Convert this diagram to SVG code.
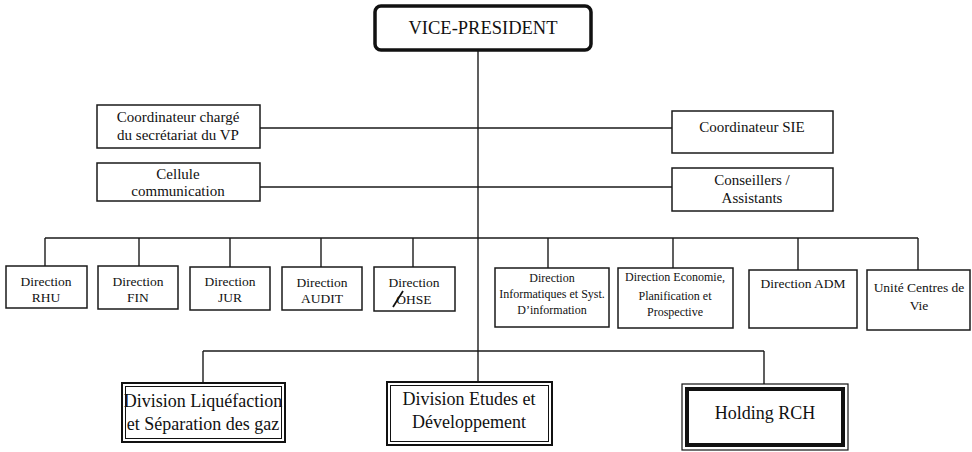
<svg xmlns="http://www.w3.org/2000/svg" width="972" height="452" viewBox="0 0 972 452">
  <style>
    text { font-family: "Liberation Serif", "Times New Roman", serif; fill: #111; text-anchor: middle; }
    .box { fill: #fff; stroke: #1a1a1a; stroke-width: 1.5; }
    .line { fill: none; stroke: #1a1a1a; stroke-width: 1.4; }
    .t15 { font-size: 15px; }
    .t13 { font-size: 13.5px; }
    .t12 { font-size: 12px; }
    .t18 { font-size: 18px; }
  </style>

  <rect width="972" height="452" fill="#fff"/>

  <!-- connectors -->
  <g id="connectors" class="line">
    <!-- main trunk -->
    <line x1="478" y1="50" x2="478" y2="382"/>
    <!-- staff links -->
    <line x1="260" y1="128" x2="672" y2="128"/>
    <line x1="260" y1="187" x2="672" y2="187"/>
    <!-- directions bus -->
    <line x1="45" y1="238" x2="918" y2="238"/>
    <line x1="45" y1="238" x2="45" y2="266"/>
    <line x1="139" y1="238" x2="139" y2="266"/>
    <line x1="230" y1="238" x2="230" y2="267"/>
    <line x1="321" y1="238" x2="321" y2="267"/>
    <line x1="413" y1="238" x2="413" y2="267"/>
    <line x1="548" y1="238" x2="548" y2="268"/>
    <line x1="673" y1="238" x2="673" y2="268"/>
    <line x1="798" y1="238" x2="798" y2="270"/>
    <line x1="918" y1="238" x2="918" y2="270"/>
    <!-- divisions bus -->
    <line x1="203" y1="351" x2="764" y2="351"/>
    <line x1="203" y1="351" x2="203" y2="383"/>
    <line x1="764" y1="351" x2="764" y2="384"/>
  </g>

  <!-- top node -->
  <g id="vice-president">
    <rect x="375" y="6" width="216" height="44" rx="6" fill="#fff" stroke="#111" stroke-width="3.5"/>
    <text x="483" y="34" style="font-size:18.5px">VICE-PRESIDENT</text>
  </g>

  <!-- staff -->
  <g id="coord-secretariat">
    <rect class="box" x="97" y="105" width="163" height="43"/>
    <text class="t15" x="178" y="122">Coordinateur chargé</text>
    <text class="t15" x="178" y="140">du secrétariat du VP</text>
  </g>
  <g id="cellule-communication">
    <rect class="box" x="97" y="163" width="163" height="38"/>
    <text class="t15" x="178" y="179">Cellule</text>
    <text class="t15" x="178" y="196">communication</text>
  </g>
  <g id="coord-sie">
    <rect class="box" x="672" y="111" width="161" height="42"/>
    <text class="t15" x="752" y="132">Coordinateur SIE</text>
  </g>
  <g id="conseillers">
    <rect class="box" x="672" y="168" width="161" height="43"/>
    <text class="t15" x="752" y="185">Conseillers /</text>
    <text class="t15" x="752" y="203">Assistants</text>
  </g>

  <!-- directions -->
  <g id="dir-rhu">
    <rect class="box" x="6" y="266" width="81" height="42"/>
    <text class="t13" x="46" y="286">Direction</text>
    <text class="t13" x="46" y="302">RHU</text>
  </g>
  <g id="dir-fin">
    <rect class="box" x="98" y="266" width="80" height="43"/>
    <text class="t13" x="138" y="286">Direction</text>
    <text class="t13" x="138" y="302">FIN</text>
  </g>
  <g id="dir-jur">
    <rect class="box" x="190" y="267" width="80" height="43"/>
    <text class="t13" x="230" y="286">Direction</text>
    <text class="t13" x="230" y="302">JUR</text>
  </g>
  <g id="dir-audit">
    <rect class="box" x="282" y="267" width="80" height="43"/>
    <text class="t13" x="322" y="287">Direction</text>
    <text class="t13" x="322" y="303">AUDIT</text>
  </g>
  <g id="dir-ohse">
    <rect class="box" x="374" y="267" width="81" height="44"/>
    <text class="t13" x="414" y="287">Direction</text>
    <text class="t13" x="414" y="304">OHSE</text>
    <!-- pen stroke over the O -->
    <line x1="393" y1="307" x2="403" y2="291" stroke="#111" stroke-width="1.8"/>
  </g>
  <g id="dir-info">
    <rect class="box" x="495" y="268" width="114" height="59"/>
    <text class="t12" x="552" y="282">Direction</text>
    <text class="t12" x="552" y="298">Informatiques et Syst.</text>
    <text class="t12" x="552" y="314">D’information</text>
  </g>
  <g id="dir-economie">
    <rect class="box" x="618" y="268" width="115" height="60"/>
    <text class="t12" x="675" y="281">Direction Economie,</text>
    <text class="t12" x="675" y="300">Planification et</text>
    <text class="t12" x="675" y="316">Prospective</text>
  </g>
  <g id="dir-adm">
    <rect class="box" x="749" y="270" width="108" height="58"/>
    <text class="t13" x="803" y="288">Direction ADM</text>
  </g>
  <g id="unite-centres">
    <rect class="box" x="867" y="270" width="103" height="60"/>
    <text class="t13" x="919" y="292">Unité Centres de</text>
    <text class="t13" x="919" y="310">Vie</text>
  </g>

  <!-- divisions -->
  <g id="div-liquefaction">
    <rect x="122" y="383" width="163" height="59" fill="#fff" stroke="#111" stroke-width="2"/>
    <rect x="125.5" y="386.5" width="156" height="52" fill="none" stroke="#111" stroke-width="1"/>
    <text class="t18" x="203" y="407">Division Liquéfaction</text>
    <text class="t18" x="203" y="430">et Séparation des gaz</text>
  </g>
  <g id="div-etudes">
    <rect x="387" y="382" width="165" height="63" fill="#fff" stroke="#111" stroke-width="2"/>
    <rect x="390.5" y="385.5" width="158" height="56" fill="none" stroke="#111" stroke-width="1"/>
    <text class="t18" x="469" y="405">Division Etudes et</text>
    <text class="t18" x="469" y="428">Développement</text>
  </g>
  <g id="holding-rch">
    <rect x="682" y="384" width="166" height="66" fill="#fff" stroke="#111" stroke-width="1.2"/>
    <rect x="687" y="389" width="156" height="56" fill="none" stroke="#111" stroke-width="4"/>
    <text class="t18" x="765" y="419">Holding RCH</text>
  </g>
</svg>
